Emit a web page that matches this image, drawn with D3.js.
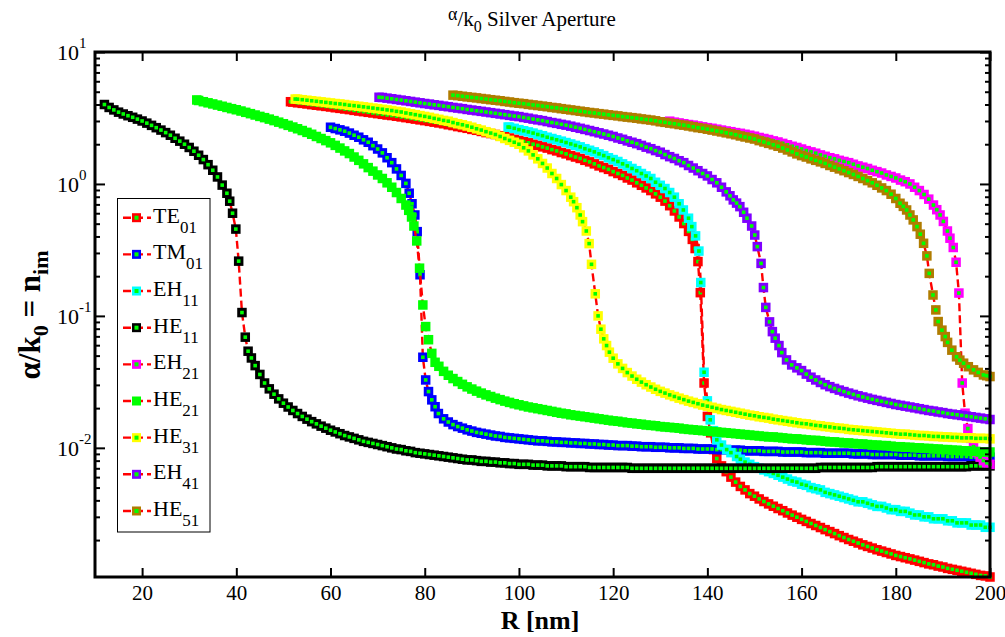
<!DOCTYPE html>
<html>
<head>
<meta charset="utf-8">
<script src="https://cdn.jsdelivr.net/npm/d3@7"></script>
<style>
  body { margin: 0; background: #fff; }
  svg { display: block; }
  text { font-family: "Liberation Serif", "Times New Roman", Times, serif; fill: #000; }
</style>
</head>
<body>
<svg id="chart" width="1005" height="637"></svg>
<script>
// Attenuation alpha/k0 (= n_im) versus aperture radius R [nm], per guided mode.
// Each entry: [R in nm, alpha/k0].
const TE01 = [
  [51.5,4.2],[52,4.17],[53,4.12],[54,4.08],[55,4.04],[56,3.99],[57,3.95],[58,3.91],[59,3.87],[60,3.83],
  [61,3.78],[62,3.74],[63,3.70],[64,3.66],[65,3.61],[66,3.57],[67,3.53],[68,3.49],[69,3.45],[70,3.41],
  [71,3.37],[72,3.33],[73,3.30],[74,3.26],[75,3.22],[76,3.18],[77,3.14],[78,3.10],[79,3.06],[80,3.02],
  [81,2.98],[82,2.94],[83,2.90],[84,2.86],[85,2.81],[86,2.77],[87,2.72],[88,2.68],[89,2.64],[90,2.59],
  [91,2.55],[92,2.50],[93,2.45],[94,2.41],[95,2.37],[96,2.32],[97,2.28],[98,2.23],[99,2.18],[100,2.14],
  [101,2.09],[102,2.05],[103,2.00],[104,1.96],[105,1.91],[106,1.87],[107,1.82],[108,1.78],[109,1.73],[110,1.69],
  [111,1.64],[112,1.60],[113,1.56],[114,1.51],[115,1.47],[116,1.42],[117,1.37],[118,1.33],[119,1.29],[120,1.24],
  [121,1.20],[122,1.16],[123,1.11],[124,1.07],[125,1.02],[126,0.977],[127,0.933],[128,0.891],[129,0.841],[130,0.794],
  [131,0.741],[132,0.684],[133,0.624],[134,0.562],[135,0.501],[136,0.437],[136.8,0.380],[137.4,0.324],[138,0.258],[138.5,0.150],
  [139.3,0.031],[140,0.0173],[140.7,0.013],[141.3,0.0097],[142,0.0083],[143,0.0073],[144,0.0066],[145,0.0060],[146,0.0055],[147,0.0051],
  [148,0.0048],[149,0.0045],[150,0.0043],[151,0.0041],[152,0.00392],[153,0.00376],[154,0.00361],[155,0.00347],[156,0.00334],[157,0.00321],
  [158,0.00309],[159,0.00298],[160,0.00287],[161,0.00277],[162,0.00267],[163,0.00258],[164,0.00249],[165,0.0024],[166,0.00232],[167,0.00224],
  [168,0.00216],[169,0.00209],[170,0.00202],[171,0.00196],[172,0.0019],[173,0.00184],[174,0.00179],[175,0.00174],[176,0.00169],[177,0.00165],
  [178,0.00161],[179,0.00157],[180,0.00153],[181,0.0015],[182,0.00147],[183,0.00144],[184,0.00141],[185,0.00138],[186,0.00135],[187,0.00132],
  [188,0.0013],[189,0.00127],[190,0.00125],[191,0.00122],[192,0.0012],[193,0.00118],[194,0.00116],[195,0.00114],[196,0.00112],[197,0.0011],
  [198,0.00108],[199,0.00107],[200,0.00105]
];

const TM01 = [
  [60,2.69],[61,2.63],[62,2.57],[63,2.51],[64,2.43],[65,2.34],[66,2.26],[67,2.16],[68,2.07],[69,1.95],
  [70,1.84],[71,1.72],[72,1.58],[73,1.45],[74,1.30],[75,1.16],[76,1.01],[76.7,0.851],[77.3,0.708],[77.9,0.582],
  [78.4,0.435],[79,0.205],[79.6,0.0486],[80.2,0.0327],[80.8,0.0267],[81.5,0.0231],[82.2,0.0205],[82.9,0.0182],[84,0.0166],[85,0.0157],
  [86,0.015],[87,0.0145],[88,0.0141],[89,0.0137],[90,0.0134],[91,0.0131],[92,0.0129],[93,0.0127],[94,0.0125],[95,0.0123],
  [96,0.0122],[97,0.012],[98,0.0119],[99,0.0118],[100,0.0117],[101,0.0116],[102,0.0115],[103,0.0114],[104,0.0113],[105,0.0113],
  [106,0.0112],[107,0.0111],[108,0.0111],[109,0.011],[110,0.011],[111,0.0109],[112,0.0109],[113,0.0108],[114,0.0108],[115,0.0107],
  [116,0.0107],[117,0.0106],[118,0.0106],[119,0.0105],[120,0.0105],[121,0.0104],[122,0.0104],[123,0.0104],[124,0.0103],[125,0.0103],
  [126,0.0102],[127,0.0102],[128,0.0102],[129,0.0101],[130,0.0101],[131,0.0101],[132,0.01],[133,0.01],[134,0.01],[135,0.0099],
  [136,0.0099],[137,0.0099],[138,0.0098],[139,0.0098],[140,0.0098],[141,0.0098],[142,0.0097],[143,0.0097],[144,0.0097],[145,0.0096],
  [146,0.0096],[147,0.0096],[148,0.0095],[149,0.0095],[150,0.0095],[151,0.0095],[152,0.0094],[153,0.0094],[154,0.0094],[155,0.0094],
  [156,0.0093],[157,0.0093],[158,0.0093],[159,0.0093],[160,0.0093],[161,0.0092],[162,0.0092],[163,0.0092],[164,0.0092],[165,0.0091],
  [166,0.0091],[167,0.0091],[168,0.0091],[169,0.0091],[170,0.0091],[171,0.009],[172,0.009],[173,0.009],[174,0.009],[175,0.0089],
  [176,0.0089],[177,0.0089],[178,0.0089],[179,0.0089],[180,0.0089],[181,0.0088],[182,0.0088],[183,0.0088],[184,0.0088],[185,0.0087],
  [186,0.0087],[187,0.0087],[188,0.0087],[189,0.0087],[190,0.0087],[191,0.0086],[192,0.0086],[193,0.0086],[194,0.0086],[195,0.0086],
  [196,0.0085],[197,0.0085],[198,0.0085],[199,0.0085],[200,0.0085]
];

const EH11 = [
  [97.7,2.7],[98,2.69],[99,2.64],[100,2.58],[101,2.53],[102,2.48],[103,2.43],[104,2.37],[105,2.32],[106,2.26],
  [107,2.21],[108,2.16],[109,2.11],[110,2.06],[111,2.01],[112,1.96],[113,1.91],[114,1.85],[115,1.80],[116,1.75],
  [117,1.69],[118,1.64],[119,1.58],[120,1.53],[121,1.48],[122,1.42],[123,1.37],[124,1.31],[125,1.26],[126,1.20],
  [127,1.15],[128,1.10],[129,1.03],[130,0.977],[131,0.923],[132,0.861],[133,0.794],[134,0.708],[134.9,0.635],[136,0.55],
  [136.7,0.475],[137.5,0.404],[138.2,0.31],[138.6,0.179],[139.3,0.0374],[140,0.0227],[140.6,0.0163],[141.3,0.0135],[142,0.0115],[143,0.0105],
  [144.1,0.0097],[145,0.0092],[146.2,0.0086],[147,0.0082],[148,0.0078],[149,0.0075],[150,0.0072],[151,0.007],[152,0.0068],[153,0.0066],
  [154,0.0064],[155,0.0062],[156,0.006],[157,0.0058],[158,0.0056],[159,0.0055],[160,0.0053],[161,0.0052],[162,0.005],[163,0.0049],
  [164,0.0048],[165,0.0046],[166,0.0045],[167,0.0044],[168,0.0043],[169,0.0042],[170,0.0041],[171,0.004],[172,0.0039],[173,0.0039],
  [174,0.0038],[175,0.0037],[176,0.0036],[177,0.0036],[178,0.0035],[179,0.0034],[180,0.0034],[181,0.0033],[182,0.0033],[183,0.0032],
  [184,0.0031],[185,0.0031],[186,0.003],[187,0.003],[188,0.0029],[189,0.0029],[190,0.0029],[191,0.0028],[192,0.0028],[193,0.0027],
  [194,0.0027],[195,0.0027],[196,0.0026],[197,0.0026],[198,0.0026],[199,0.0025],[200,0.0025]
];

const HE11 = [
  [12,4.0],[13,3.8],[14,3.64],[15,3.5],[16,3.39],[17,3.29],[18,3.2],[19,3.1],[20,3.0],[21,2.89],
  [22,2.78],[23,2.67],[24,2.56],[25,2.45],[26,2.34],[27,2.22],[28,2.11],[29,2.0],[30,1.89],[31,1.77],
  [32,1.65],[33,1.53],[34,1.4],[35,1.27],[36,1.13],[37,0.98],[38,0.85],[38.6,0.74],[39.2,0.6],[39.9,0.455],
  [40.5,0.26],[41.2,0.106],[41.9,0.069],[42.5,0.054],[43.2,0.048],[44,0.042],[45,0.036],[46,0.031],[47,0.028],[48,0.0255],
  [49,0.0235],[50,0.0218],[51,0.0204],[52,0.0192],[53,0.0182],[54,0.0173],[55,0.0165],[56,0.0158],[57,0.0152],[58,0.0146],
  [59,0.0141],[60,0.0136],[61,0.0132],[62,0.0128],[63,0.0124],[64,0.0121],[65,0.0118],[66,0.0115],[67,0.0112],[68,0.011],
  [69,0.0108],[70,0.0106],[71,0.0104],[72,0.0102],[73,0.01],[74,0.0098],[75,0.0097],[76,0.0095],[77,0.0094],[78,0.0092],
  [79,0.0091],[80,0.009],[81,0.0089],[82,0.0088],[83,0.0087],[84,0.0086],[85,0.0085],[86,0.0084],[87,0.0083],[88,0.0082],
  [89,0.0081],[90,0.0081],[91,0.008],[92,0.0079],[93,0.0079],[94,0.0078],[95,0.0078],[96,0.0077],[97,0.0077],[98,0.0076],
  [99,0.0076],[100,0.0075],[101,0.0075],[102,0.0075],[103,0.0074],[104,0.0074],[105,0.0074],[106,0.0073],[107,0.0073],[108,0.0073],
  [109,0.0073],[110,0.0072],[111,0.0072],[112,0.0072],[113,0.0072],[114,0.0072],[115,0.0071],[116,0.0071],[117,0.0071],[118,0.0071],
  [119,0.0071],[120,0.0071],[121,0.0071],[122,0.0071],[123,0.0071],[124,0.007],[125,0.007],[126,0.007],[127,0.007],[128,0.007],
  [129,0.007],[130,0.007],[131,0.007],[132,0.007],[133,0.007],[134,0.007],[135,0.007],[136,0.007],[137,0.007],[138,0.007],
  [139,0.007],[140,0.007],[141,0.007],[142,0.007],[143,0.007],[144,0.007],[145,0.007],[146,0.007],[147,0.007],[148,0.007],
  [149,0.007],[150,0.007],[151,0.007],[152,0.007],[153,0.007],[154,0.007],[155,0.007],[156,0.007],[157,0.007],[158,0.007],
  [159,0.007],[160,0.007],[161,0.007],[162,0.007],[163,0.007],[164,0.0071],[165,0.0071],[166,0.0071],[167,0.0071],[168,0.0071],
  [169,0.0071],[170,0.0071],[171,0.0071],[172,0.0071],[173,0.0071],[174,0.0071],[175,0.0071],[176,0.0072],[177,0.0072],[178,0.0072],
  [179,0.0072],[180,0.0072],[181,0.0072],[182,0.0072],[183,0.0072],[184,0.0072],[185,0.0072],[186,0.0072],[187,0.0072],[188,0.0072],
  [189,0.0072],[190,0.0072],[191,0.0072],[192,0.0072],[193,0.0072],[194,0.0072],[195,0.0072],[196,0.0073],[197,0.0073],[198,0.0073],
  [199,0.0073],[200,0.0073]
];

const EH21 = [
  [132,2.99],[133,2.94],[134,2.9],[135,2.86],[136,2.82],[137,2.79],[138,2.75],[139,2.71],[140,2.67],[141,2.64],
  [142,2.6],[143,2.56],[144,2.52],[145,2.49],[146,2.45],[147,2.42],[148,2.38],[149,2.34],[150,2.3],[151,2.25],
  [152,2.21],[153,2.17],[154,2.12],[155,2.08],[156,2.03],[157,1.98],[158,1.93],[159,1.89],[160,1.84],[161,1.79],
  [162,1.75],[163,1.71],[164,1.66],[165,1.62],[166,1.58],[167,1.55],[168,1.51],[169,1.48],[170,1.45],[171,1.41],
  [172,1.37],[173,1.34],[174,1.31],[175,1.27],[176,1.24],[177,1.21],[178,1.17],[179,1.14],[180,1.11],[181,1.07],
  [182,1.04],[183,1.0],[184,0.944],[185,0.891],[186,0.832],[187,0.767],[188,0.692],[188.7,0.638],[189.4,0.582],[190.1,0.52],
  [190.96,0.44],[191.5,0.388],[192.2,0.33],[192.8,0.255],[193.4,0.149],[194.1,0.031],[194.7,0.0183],[195.3,0.014],[195.9,0.0118],[196.5,0.0102],
  [197.2,0.0092],[197.9,0.0085],[198.6,0.008],[199.3,0.0077],[200,0.0075]
];

const HE21 = [
  [31.6,4.33],[32,4.29],[33,4.2],[34,4.12],[35,4.04],[36,3.96],[37,3.88],[38,3.8],[39,3.72],[40,3.65],
  [41,3.57],[42,3.49],[43,3.41],[44,3.33],[45,3.25],[46,3.18],[47,3.1],[48,3.02],[49,2.94],[50,2.86],
  [51,2.78],[52,2.7],[53,2.62],[54,2.54],[55,2.46],[56,2.38],[57,2.29],[58,2.21],[59,2.13],[60,2.05],
  [61,1.96],[62,1.87],[63,1.78],[64,1.7],[65,1.6],[66,1.51],[67,1.42],[68,1.33],[69,1.25],[70,1.17],
  [71,1.1],[72,1.02],[73,0.944],[74,0.861],[75,0.776],[76,0.692],[76.6,0.631],[77.2,0.562],[77.7,0.48],[78.3,0.37],
  [78.9,0.23],[79.6,0.121],[80.2,0.083],[80.8,0.066],[81.5,0.052],[82.2,0.0445],[83,0.0415],[84,0.038],[85,0.0355],[86,0.0335],
  [87,0.0318],[88,0.0303],[89,0.029],[90,0.0279],[91,0.0269],[92,0.026],[93,0.0252],[94,0.0245],[95,0.0238],[96,0.0232],
  [97,0.0226],[98,0.0221],[99,0.0216],[100,0.0212],[101,0.0208],[102,0.0204],[103,0.0201],[104,0.0198],[105,0.0195],[106,0.0192],
  [107,0.0189],[108,0.0186],[109,0.0183],[110,0.0181],[111,0.0178],[112,0.0176],[113,0.0174],[114,0.0172],[115,0.017],[116,0.0168],
  [117,0.0166],[118,0.0164],[119,0.0162],[120,0.016],[121,0.0159],[122,0.0157],[123,0.0155],[124,0.0154],[125,0.0152],[126,0.0151],
  [127,0.0149],[128,0.0148],[129,0.0147],[130,0.0145],[131,0.0144],[132,0.0143],[133,0.0142],[134,0.0141],[135,0.0139],[136,0.0138],
  [137,0.0137],[138,0.0136],[139,0.0135],[140,0.0134],[141,0.0133],[142,0.0132],[143,0.0131],[144,0.013],[145,0.0129],[146,0.0128],
  [147,0.0127],[148,0.0126],[149,0.0125],[150,0.0124],[151,0.0123],[152,0.0122],[153,0.0121],[154,0.0121],[155,0.012],[156,0.0119],
  [157,0.0118],[158,0.0117],[159,0.0117],[160,0.0116],[161,0.0115],[162,0.0114],[163,0.0114],[164,0.0113],[165,0.0112],[166,0.0111],
  [167,0.0111],[168,0.011],[169,0.0109],[170,0.0109],[171,0.0108],[172,0.0107],[173,0.0107],[174,0.0106],[175,0.0105],[176,0.0105],
  [177,0.0104],[178,0.0104],[179,0.0103],[180,0.0102],[181,0.0102],[182,0.0101],[183,0.0101],[184,0.01],[185,0.01],[186,0.0099],
  [187,0.0099],[188,0.0098],[189,0.0098],[190,0.0097],[191,0.0097],[192,0.0096],[193,0.0096],[194,0.0095],[195,0.0095],[196,0.0094],
  [197,0.0094],[198,0.0093],[199,0.0093],[200,0.0093]
];

const HE31 = [
  [52.5,4.4],[53,4.39],[54,4.35],[55,4.31],[56,4.27],[57,4.23],[58,4.19],[59,4.15],[60,4.11],[61,4.07],
  [62,4.04],[63,4.0],[64,3.95],[65,3.92],[66,3.88],[67,3.84],[68,3.8],[69,3.76],[70,3.72],[71,3.68],
  [72,3.64],[73,3.6],[74,3.55],[75,3.51],[76,3.45],[77,3.4],[78,3.35],[79,3.3],[80,3.25],[81,3.2],
  [82,3.14],[83,3.09],[84,3.03],[85,2.99],[86,2.92],[87,2.86],[88,2.81],[89,2.75],[90,2.69],[91,2.62],
  [92,2.56],[93,2.49],[94,2.43],[95,2.37],[96,2.29],[97,2.21],[98,2.14],[99,2.07],[100,2.0],[101,1.88],
  [102,1.78],[103,1.66],[104,1.55],[105,1.43],[106,1.32],[107,1.2],[108,1.1],[109,0.989],[110,0.891],[111,0.794],
  [111.6,0.734],[112.3,0.661],[113,0.582],[113.5,0.518],[114.3,0.44],[114.9,0.353],[115.4,0.246],[116.2,0.147],[116.8,0.1],[117.4,0.0793],
  [118,0.067],[118.6,0.0596],[119.2,0.0531],[120,0.0478],[121,0.0433],[122,0.04],[123,0.0372],[124,0.035],[125,0.0331],[126,0.0315],
  [127,0.0301],[128,0.0289],[129,0.0278],[130,0.0268],[131,0.026],[132,0.0252],[133,0.0245],[134,0.0238],[135,0.0232],[136,0.0226],
  [137,0.0221],[138,0.0216],[139,0.0211],[140,0.0207],[141,0.0203],[142,0.0199],[143,0.0195],[144,0.0192],[145,0.0189],[146,0.0186],
  [147,0.0183],[148,0.018],[149,0.0177],[150,0.0175],[151,0.0172],[152,0.017],[153,0.0168],[154,0.0165],[155,0.0163],[156,0.0161],
  [157,0.0159],[158,0.0157],[159,0.0155],[160,0.0153],[161,0.0152],[162,0.015],[163,0.0148],[164,0.0147],[165,0.0145],[166,0.0144],
  [167,0.0142],[168,0.0141],[169,0.014],[170,0.0138],[171,0.0137],[172,0.0136],[173,0.0135],[174,0.0134],[175,0.0133],[176,0.0132],
  [177,0.0131],[178,0.013],[179,0.0129],[180,0.0128],[181,0.0127],[182,0.0127],[183,0.0126],[184,0.0125],[185,0.0124],[186,0.0124],
  [187,0.0123],[188,0.0122],[189,0.0122],[190,0.0121],[191,0.0121],[192,0.012],[193,0.012],[194,0.0119],[195,0.0119],[196,0.0119],
  [197,0.0118],[198,0.0118],[199,0.0118],[200,0.0117]
];

const EH41 = [
  [70.3,4.54],[71,4.52],[72,4.47],[73,4.42],[74,4.37],[75,4.32],[76,4.27],[77,4.22],[78,4.17],[79,4.12],
  [80,4.07],[81,4.03],[82,3.98],[83,3.94],[84,3.89],[85,3.85],[86,3.8],[87,3.76],[88,3.72],[89,3.67],
  [90,3.63],[91,3.59],[92,3.55],[93,3.51],[94,3.47],[95,3.43],[96,3.39],[97,3.35],[98,3.31],[99,3.27],
  [100,3.24],[101,3.19],[102,3.15],[103,3.1],[104,3.06],[105,3.02],[106,2.97],[107,2.92],[108,2.88],[109,2.83],
  [110,2.79],[111,2.74],[112,2.69],[113,2.64],[114,2.59],[115,2.54],[116,2.49],[117,2.44],[118,2.39],[119,2.34],
  [120,2.29],[121,2.23],[122,2.18],[123,2.12],[124,2.07],[125,2.02],[126,1.96],[127,1.9],[128,1.85],[129,1.79],
  [130,1.74],[131,1.67],[132,1.61],[133,1.56],[134,1.5],[135,1.45],[136,1.38],[137,1.32],[138,1.26],[139,1.2],
  [140,1.15],[141,1.08],[142,1.02],[143,0.944],[144,0.871],[144.8,0.813],[145.5,0.757],[146.2,0.716],[146.9,0.673],[147.7,0.61],
  [148.4,0.55],[149.4,0.48],[150.06,0.41],[150.6,0.335],[151.4,0.25],[151.9,0.164],[152.4,0.116],[153.2,0.0901],[153.8,0.076],[154.4,0.0678],
  [155.2,0.0596],[155.8,0.0527],[156.8,0.0464],[157.9,0.0425],[159,0.0404],[160,0.0385],[161,0.0362],[162,0.0343],[163,0.0327],[164,0.0313],
  [165,0.0301],[166,0.0291],[167,0.0282],[168,0.0274],[169,0.0267],[170,0.026],[171,0.0254],[172,0.0248],[173,0.0243],[174,0.0238],
  [175,0.0233],[176,0.0229],[177,0.0225],[178,0.0221],[179,0.0217],[180,0.0213],[181,0.021],[182,0.0207],[183,0.0204],[184,0.0201],
  [185,0.0198],[186,0.0195],[187,0.0192],[188,0.019],[189,0.0187],[190,0.0185],[191,0.0182],[192,0.018],[193,0.0178],[194,0.0176],
  [195,0.0174],[196,0.0172],[197,0.017],[198,0.0168],[199,0.0166],[200,0.0164]
];

const HE51 = [
  [86,4.71],[87,4.67],[88,4.62],[89,4.57],[90,4.53],[91,4.49],[92,4.44],[93,4.4],[94,4.35],[95,4.31],
  [96,4.27],[97,4.22],[98,4.18],[99,4.13],[100,4.09],[101,4.06],[102,4.01],[103,3.97],[104,3.93],[105,3.89],
  [106,3.85],[107,3.8],[108,3.77],[109,3.72],[110,3.68],[111,3.64],[112,3.6],[113,3.56],[114,3.52],[115,3.48],
  [116,3.45],[117,3.41],[118,3.38],[119,3.34],[120,3.31],[121,3.28],[122,3.24],[123,3.21],[124,3.18],[125,3.15],
  [126,3.11],[127,3.08],[128,3.05],[129,3.01],[130,2.96],[131,2.93],[132,2.89],[133,2.86],[134,2.82],[135,2.79],
  [136,2.75],[137,2.71],[138,2.67],[139,2.64],[140,2.6],[141,2.56],[142,2.52],[143,2.48],[144,2.44],[145,2.4],
  [146,2.36],[147,2.31],[148,2.27],[149,2.23],[150,2.19],[151,2.13],[152,2.08],[153,2.03],[154,1.98],[155,1.93],
  [156,1.87],[157,1.81],[158,1.75],[159,1.69],[160,1.64],[161,1.6],[162,1.55],[163,1.51],[164,1.47],[165,1.43],
  [166,1.38],[167,1.34],[168,1.3],[169,1.26],[170,1.22],[171,1.18],[172,1.14],[173,1.1],[174,1.06],[175,1.02],
  [176,0.977],[177,0.933],[178,0.891],[179,0.836],[180,0.776],[180.9,0.714],[181.6,0.676],[182.3,0.635],[183,0.582],[183.7,0.534],
  [184.5,0.475],[185.2,0.416],[185.9,0.355],[186.6,0.285],[187.1,0.21],[187.9,0.144],[188.5,0.111],[189,0.0906],[189.8,0.078],[190.5,0.0697],
  [191,0.063],[191.9,0.055],[192.9,0.049],[193.6,0.0462],[194.4,0.0438],[195.4,0.0412],[196.5,0.039],[197.5,0.0373],[198.6,0.0357],[199.3,0.0352],
  [200,0.0347]
];

// Legend order, names and marker colours
const modeNames = ["TE", "TM", "EH", "HE", "EH", "HE", "HE", "EH", "HE"];
const modeIndices = ["01", "01", "11", "11", "21", "21", "31", "41", "51"];
const edgeColors = ["#ff0000", "#0000ff", "#00ffff", "#000000", "#ff00ff", "#00ff00", "#ffff00", "#7f00ff", "#b07c00"];
const modeData = [TE01, TM01, EH11, HE11, EH21, HE21, HE31, EH41, HE51];

// Axis ticks
const xTickValues = [20, 40, 60, 80, 100, 120, 140, 160, 180, 200];
const yDecadeValues = [0.01, 0.1, 1, 10];
const yDecadeExponents = ["-2", "-1", "0", "1"];

const plotL = 95, plotR = 990, plotT = 52, plotB = 577;
const faceColor = "#00ff00";
const lineColor = "#ff0000";

const svg = d3.select("#chart");
const x = d3.scaleLinear().domain([10, 200]).range([plotL, plotR]);
const y = d3.scaleLog().domain([0.00105, 10]).range([plotB, plotT]);

// ---------- curves ----------
const lineGen = d3.line().x(d => x(d[0])).y(d => y(d[1]));
const plot = svg.append("g").attr("class", "plot");

function drawMarkers(g, pts, edge, outer, inner) {
  g.selectAll("rect.outer").data(pts).join("rect")
    .attr("class", "outer")
    .attr("x", d => x(d[0]) - outer / 2).attr("y", d => y(d[1]) - outer / 2)
    .attr("width", outer).attr("height", outer)
    .attr("fill", edge);
  g.selectAll("rect.inner").data(pts).join("rect")
    .attr("class", "inner")
    .attr("x", d => x(d[0]) - inner / 2).attr("y", d => y(d[1]) - inner / 2)
    .attr("width", inner).attr("height", inner)
    .attr("fill", faceColor);
}

modeData.forEach((pts, i) => {
  const g = plot.append("g");
  g.append("path")
    .attr("d", lineGen(pts))
    .attr("fill", "none")
    .attr("stroke", lineColor)
    .attr("stroke-width", 2.4)
    .attr("stroke-dasharray", "8,4");
  drawMarkers(g, pts, edgeColors[i], 9.5, 3.6);
});

// ---------- axes ----------
const yMinor = [];
[-3, -2, -1, 0].forEach(e => {
  for (let k = 2; k <= 9; k++) {
    const v = k * Math.pow(10, e);
    if (v >= y.domain()[0] && v <= y.domain()[1]) yMinor.push(v);
  }
});

function styleAxis(g) {
  g.select(".domain").remove();
  g.selectAll(".tick line").attr("stroke", "#000").attr("stroke-width", 2);
}

svg.append("g").attr("transform", `translate(0,${plotB})`)
  .call(d3.axisBottom(x).tickValues(xTickValues).tickSizeInner(-9).tickSizeOuter(0).tickPadding(8))
  .call(styleAxis)
  .call(g => g.selectAll(".tick text")
    .attr("font-family", "'Liberation Serif', 'Times New Roman', serif")
    .attr("font-size", 21).attr("fill", "#000"));

svg.append("g").attr("transform", `translate(0,${plotT})`)
  .call(d3.axisTop(x).tickValues(xTickValues).tickSizeInner(-9).tickSizeOuter(0).tickFormat(""))
  .call(styleAxis);

svg.append("g").attr("transform", `translate(${plotL},0)`)
  .call(d3.axisLeft(y).tickValues(yDecadeValues).tickSizeInner(-10).tickSizeOuter(0).tickFormat(""))
  .call(styleAxis);
svg.append("g").attr("transform", `translate(${plotL},0)`)
  .call(d3.axisLeft(y).tickValues(yMinor).tickSizeInner(-5).tickSizeOuter(0).tickFormat(""))
  .call(styleAxis);
svg.append("g").attr("transform", `translate(${plotR},0)`)
  .call(d3.axisRight(y).tickValues(yDecadeValues).tickSizeInner(-10).tickSizeOuter(0).tickFormat(""))
  .call(styleAxis);
svg.append("g").attr("transform", `translate(${plotR},0)`)
  .call(d3.axisRight(y).tickValues(yMinor).tickSizeInner(-5).tickSizeOuter(0).tickFormat(""))
  .call(styleAxis);

// y tick labels: 10 with a raised exponent
const yLab = svg.append("g");
yDecadeValues.forEach((v, i) => {
  const t = yLab.append("text")
    .attr("x", 57).attr("y", y(v) + 8)
    .attr("font-size", 22);
  t.append("tspan").text("10");
  t.append("tspan").attr("font-size", 15).attr("dy", -12).text(yDecadeExponents[i]);
});

// plot frame
svg.append("rect")
  .attr("x", plotL).attr("y", plotT)
  .attr("width", plotR - plotL).attr("height", plotB - plotT)
  .attr("fill", "none").attr("stroke", "#000").attr("stroke-width", 3);

// ---------- titles ----------
const title = svg.append("text")
  .attr("x", 448).attr("y", 26).attr("font-size", 21);
title.append("tspan").attr("font-size", 18).attr("dy", -6).text("\u03b1");
title.append("tspan").attr("dy", 6).text("/k");
title.append("tspan").attr("font-size", 16).attr("dy", 6).text("0");
title.append("tspan").attr("dy", -6).text(" Silver Aperture");

svg.append("text")
  .attr("x", 540).attr("y", 629)
  .attr("text-anchor", "middle")
  .attr("font-size", 26).attr("font-weight", "bold")
  .text("R [nm]");

const yTitle = svg.append("text")
  .attr("transform", "translate(40,315) rotate(-90)")
  .attr("text-anchor", "middle")
  .attr("font-size", 31).attr("font-weight", "bold");
yTitle.append("tspan").text("\u03b1/k");
yTitle.append("tspan").attr("font-size", 22).attr("dy", 8).text("0");
yTitle.append("tspan").attr("dy", -8).text(" = n");
yTitle.append("tspan").attr("font-size", 22).attr("dy", 8).text("im");

// ---------- legend ----------
const legend = svg.append("g");
legend.append("rect")
  .attr("x", 117.5).attr("y", 198.5).attr("width", 92.5).attr("height", 333.5)
  .attr("fill", "#fff").attr("stroke", "#000").attr("stroke-width", 1);
modeNames.forEach((name, i) => {
  const cy = 217.7 + i * 36.66;
  const row = legend.append("g");
  row.append("line")
    .attr("x1", 123).attr("x2", 151).attr("y1", cy).attr("y2", cy)
    .attr("stroke", lineColor).attr("stroke-width", 2.4)
    .attr("stroke-dasharray", "8,4");
  row.append("rect").attr("x", 132).attr("y", cy - 4.5).attr("width", 9).attr("height", 9).attr("fill", edgeColors[i]);
  row.append("rect").attr("x", 134.5).attr("y", cy - 2).attr("width", 4).attr("height", 4).attr("fill", faceColor);
  const t = row.append("text").attr("x", 153).attr("y", cy + 5).attr("font-size", 22);
  t.append("tspan").text(name);
  t.append("tspan").attr("font-size", 17).attr("dy", 10).text(modeIndices[i]);
});
</script>
</body>
</html>
